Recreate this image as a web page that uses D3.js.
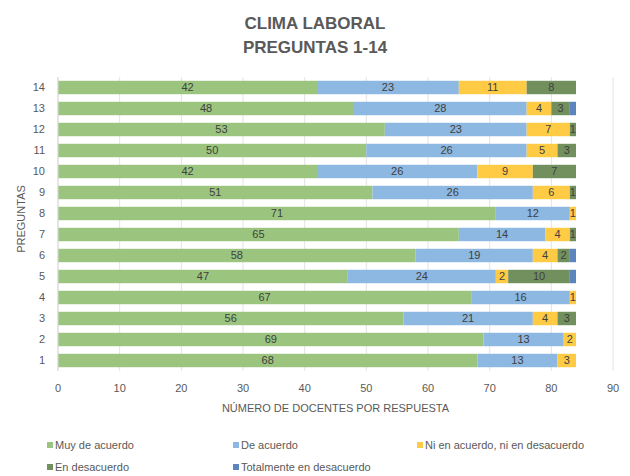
<!DOCTYPE html>
<html>
<head>
<meta charset="utf-8">
<script src="https://cdn.jsdelivr.net/npm/d3@7"></script>
<style>
  body { margin: 0; background: #fff; }
  svg { font-family: "Liberation Sans", "Open Sans", sans-serif; }
</style>
</head>
<body>
<svg id="chart" width="630" height="476"></svg>
<script>
var questions = ["1","2","3","4","5","6","7","8","9","10","11","12","13","14"];
var categories = ["Muy de acuerdo", "De acuerdo", "Ni en acuerdo, ni en desacuerdo", "En desacuerdo", "Totalmente en desacuerdo"];
var colors = ["#9bc57f", "#8db8e1", "#ffcb45", "#72905e", "#5b85bc"];

// values per question, in category order
var muyDeAcuerdo   = [68, 69, 56, 67, 47, 58, 65, 71, 51, 42, 50, 53, 48, 42];
var deAcuerdo      = [13, 13, 21, 16, 24, 19, 14, 12, 26, 26, 26, 23, 28, 23];
var ni             = [ 3,  2,  4,  1,  2,  4,  4,  1,  6,  9,  5,  7,  4, 11];
var enDesacuerdo   = [ 0,  0,  3,  0, 10,  2,  1,  0,  1,  7,  3,  1,  3,  8];
var totalmente     = [ 0,  0,  0,  0,  1,  1,  0,  0,  0,  0,  0,  0,  1,  0];
var series = [muyDeAcuerdo, deAcuerdo, ni, enDesacuerdo, totalmente];

var xTicks = [0, 10, 20, 30, 40, 50, 60, 70, 80, 90];

var svg = d3.select("#chart");
var margin = { left: 58, right: 17, top: 77, bottom: 105 };
var width = 630 - margin.left - margin.right;
var height = 476 - margin.top - margin.bottom;

var rows = questions.map(function(q, i) {
    var r = { q: q };
    categories.forEach(function(c, k) { r[c] = series[k][i]; });
    return r;
});
var stacked = d3.stack().keys(categories)(rows);

var x = d3.scaleLinear().domain([0, 90]).range([margin.left, margin.left + width]);
var y = d3.scaleBand().domain(questions.slice().reverse())
    .range([margin.top, margin.top + height]).paddingInner(0.36).paddingOuter(0.18);

// Title
svg.append("text")
    .attr("x", 315).attr("y", 29)
    .attr("text-anchor", "middle")
    .style("font-size", "17px").style("font-weight", "bold").style("fill", "#595959")
    .text("CLIMA LABORAL");
svg.append("text")
    .attr("x", 315).attr("y", 53)
    .attr("text-anchor", "middle")
    .style("font-size", "17px").style("font-weight", "bold").style("fill", "#595959")
    .text("PREGUNTAS 1-14");

// Gridlines
svg.append("g")
    .selectAll("line")
    .data(xTicks)
    .enter()
    .append("line")
        .attr("x1", function(d) { return x(d) })
        .attr("x2", function(d) { return x(d) })
        .attr("y1", margin.top)
        .attr("y2", margin.top + height)
        .style("stroke", "#e3e3e3")
        .style("stroke-width", 1);

// Bars
var layer = svg.append("g")
    .selectAll("g")
    .data(stacked)
    .enter()
    .append("g")
        .style("fill", function(d, i) { return colors[i] });

layer.selectAll("rect")
    .data(function(d) { return d })
    .enter()
    .append("rect")
        .attr("x", function(d) { return x(d[0]) })
        .attr("y", function(d) { return y(d.data.q) })
        .attr("width", function(d) { return x(d[1]) - x(d[0]) })
        .attr("height", y.bandwidth());

// Data labels (the last category shows none)
layer.filter(function(d, i) { return i < 4 })
    .selectAll("text")
    .data(function(d) { return d.filter(function(v) { return v[1] - v[0] > 0 }) })
    .enter()
    .append("text")
        .attr("x", function(d) { return (x(d[0]) + x(d[1])) / 2 })
        .attr("y", function(d) { return y(d.data.q) + y.bandwidth() / 2 })
        .attr("dy", "0.36em")
        .attr("text-anchor", "middle")
        .style("font-size", "11px")
        .style("fill", "#404040")
        .text(function(d) { return d[1] - d[0] });

// Y axis line
svg.append("line")
    .attr("x1", margin.left).attr("x2", margin.left)
    .attr("y1", margin.top).attr("y2", margin.top + height)
    .style("stroke", "#d9d9d9");

// Y labels
svg.append("g")
    .selectAll("text")
    .data(questions)
    .enter()
    .append("text")
        .attr("x", margin.left - 13)
        .attr("y", function(d) { return y(d) + y.bandwidth() / 2 })
        .attr("dy", "0.36em")
        .attr("text-anchor", "end")
        .style("font-size", "11px")
        .style("fill", "#595959")
        .text(function(d) { return d });

// X labels
svg.append("g")
    .selectAll("text")
    .data(xTicks)
    .enter()
    .append("text")
        .attr("x", function(d) { return x(d) })
        .attr("y", margin.top + height + 21)
        .attr("text-anchor", "middle")
        .style("font-size", "11px")
        .style("fill", "#595959")
        .text(function(d) { return d });

// Axis titles
svg.append("text")
    .attr("x", margin.left + width / 2)
    .attr("y", margin.top + height + 41)
    .attr("text-anchor", "middle")
    .style("font-size", "11px")
    .style("fill", "#595959")
    .text("NÚMERO DE DOCENTES POR RESPUESTA");

svg.append("text")
    .attr("transform", "translate(25," + (margin.top + height / 2 - 5) + ") rotate(-90)")
    .attr("text-anchor", "middle")
    .style("font-size", "11px")
    .style("fill", "#595959")
    .text("PREGUNTAS");

// Legend
var legendPos = [[47, 445], [233, 445], [417, 445], [47, 467], [233, 467]];
var legend = svg.append("g")
    .selectAll("g")
    .data(categories)
    .enter()
    .append("g")
        .attr("transform", function(d, i) { return "translate(" + legendPos[i][0] + "," + legendPos[i][1] + ")" });

legend.append("rect")
    .attr("x", 0).attr("y", -3)
    .attr("width", 6).attr("height", 6)
    .style("fill", function(d, i) { return colors[i] });

legend.append("text")
    .attr("x", 8).attr("y", 0)
    .attr("dy", "0.36em")
    .style("font-size", "11px")
    .style("fill", "#595959")
    .text(function(d) { return d });
</script>
</body>
</html>
